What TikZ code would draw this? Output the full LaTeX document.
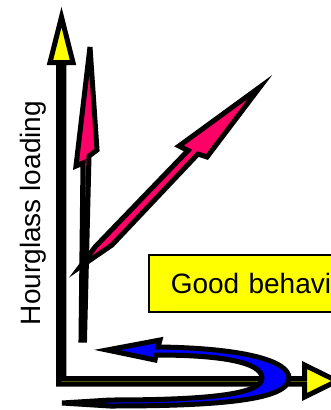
\documentclass[tikz,border=0pt]{standalone}
\usepackage{fontspec}
\setmainfont{Liberation Sans}
\usepackage{xcolor}
\usepackage{tikz}
\usetikzlibrary{positioning, calc}
\definecolor{arrowyellow}{RGB}{255,255,0}
\definecolor{arrowpink}{RGB}{255,0,102}
\definecolor{arrowblue}{RGB}{0,0,255}
\tikzstyle{blockarrow} = [draw=black, line width=5pt, line join=miter]

\begin{document}
\begin{tikzpicture}[
		x=1pt, y=-1pt,
		every node/.style={font=\fontsize{28}{34}\selectfont},
		axisarrow/.style={blockarrow, fill=arrowyellow},
		pinkarrow/.style={blockarrow, fill=arrowpink},
		bluearrow/.style={blockarrow, fill=arrowblue},
		labelbox/.style={draw=black, line width=1.5pt, fill=arrowyellow, anchor=north west, minimum height=57pt, text width=190pt, inner xsep=22pt, align=left}
		]
		\useasboundingbox (0,0) rectangle (331,410);
		\clip (0,0) rectangle (331,410);
		
		% Ejes
		\draw[axisarrow] (58.5,384) -- (304.5,384) -- (304.5,397) -- (337,381) -- (304.5,365) -- (304.5,378.5)
		-- (63.8,378.5) -- (63.8,62.5) -- (73,62.5) -- (61.5,17) -- (50,62.5) -- (58.5,62.5) -- cycle;
		
		% Flechas rosas
		\draw[pinkarrow, miter limit=5] (90,47) -- (97,150) -- (89,156) -- (84.5,340) -- (81,340) -- (83,163) -- (76,166) -- cycle;
		\draw[pinkarrow] (260,87) -- (207,157) -- (198,154) -- (112,245) -- (80,267) -- (95,247) -- (188,150.5) -- (179,146) -- cycle;
		
		% Textos
		\node[labelbox] (goodbox) at (148,254) {Good behavi};
		\node[rotate=90, anchor=base] (yaxislabel) at (40,213) {Hourglass loading};
		
		% Flecha azul
		\draw[bluearrow] (107,350) -- (160,340) -- (158,347)
		.. controls (240,348) and (289,360) .. (289,378)
		.. controls (289,400) and (220,406) .. (110,406) -- (62,403) -- (110,400)
		.. controls (210,400) and (262,394) .. (262,378)
		.. controls (262,362) and (220,355) .. (156,355) -- (155,360) -- cycle;
		
	\end{tikzpicture}
\end{document}
